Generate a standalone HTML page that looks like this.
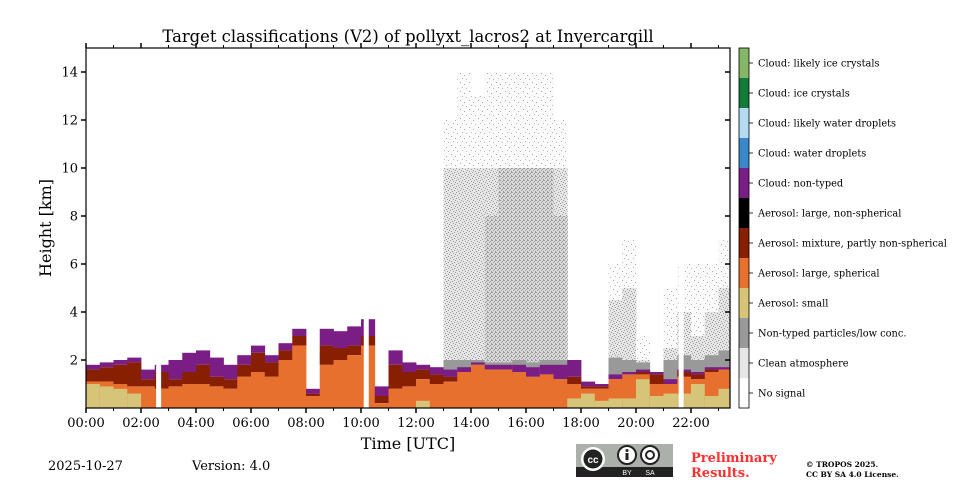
<!DOCTYPE html>
<html><head><meta charset="utf-8">
<style>
html,body{margin:0;padding:0;background:#fff;width:960px;height:480px;overflow:hidden}
svg{display:block}
text{font-family:"DejaVu Serif","Liberation Serif",serif;fill:#000}
</style></head>
<body>
<svg id="chart" width="960" height="480" viewBox="0 0 960 480">
<defs>
<pattern id="sparse" width="9" height="9" patternUnits="userSpaceOnUse">
<rect width="9" height="9" fill="#fafafa"/>
<rect x="1" y="1" width="1" height="1" fill="#aaa"/>
<rect x="5" y="3" width="1" height="1" fill="#aaa"/>
<rect x="7" y="7" width="1" height="1" fill="#bbb"/>
<rect x="3" y="6" width="1" height="1" fill="#bbb"/>
</pattern>
<pattern id="mid" width="6" height="6" patternUnits="userSpaceOnUse">
<rect width="6" height="6" fill="#e6e6e6"/>
<rect x="0" y="0" width="1" height="1" fill="#999"/>
<rect x="3" y="1" width="1" height="1" fill="#999"/>
<rect x="1" y="3" width="1" height="1" fill="#999"/>
<rect x="4" y="4" width="1" height="1" fill="#999"/>
<rect x="5" y="2" width="1" height="1" fill="#999"/>
<rect x="2" y="5" width="1" height="1" fill="#999"/>
</pattern>
<pattern id="dense" width="4" height="4" patternUnits="userSpaceOnUse">
<rect width="4" height="4" fill="#dadada"/>
<rect x="0" y="0" width="1" height="1" fill="#999"/>
<rect x="2" y="1" width="1" height="1" fill="#999"/>
<rect x="1" y="2" width="1" height="1" fill="#999"/>
<rect x="3" y="3" width="1" height="1" fill="#999"/>
<rect x="3" y="0" width="1" height="1" fill="#999"/>
</pattern>
</defs>
<g id="plot"></g>
<g id="axes"></g>
<text x="408" y="42" font-size="16.4" text-anchor="middle">Target classifications (V2) of pollyxt_lacros2 at Invercargill</text>
<text x="408" y="449" font-size="16" text-anchor="middle">Time [UTC]</text>
<text transform="translate(51,228) rotate(-90)" font-size="16" text-anchor="middle">Height [km]</text>
<g id="cbar"></g>
<text x="48" y="470" font-size="13">2025-10-27</text>
<text x="192" y="470" font-size="13">Version: 4.0</text>
<g>
<rect x="576" y="444" width="97" height="33" fill="#abb1aa"/>
<rect x="576" y="467" width="97" height="10" fill="#222"/>
<circle cx="593" cy="459" r="12" fill="#fff"/><circle cx="593" cy="459" r="9.5" fill="#222"/>
<text x="593" y="463" font-size="10" text-anchor="middle" style="fill:#fff;font-weight:bold;font-family:'Liberation Sans',sans-serif">cc</text>
<circle cx="627" cy="455" r="9" fill="#fff" stroke="#222" stroke-width="2"/>
<rect x="625.5" y="453" width="3" height="7" fill="#222"/><circle cx="627" cy="450.5" r="1.5" fill="#222"/>
<circle cx="650" cy="455" r="9" fill="#fff" stroke="#222" stroke-width="2"/>
<circle cx="650" cy="455" r="4" fill="none" stroke="#222" stroke-width="2"/>
<text x="627" y="475" font-size="7" text-anchor="middle" style="fill:#fff;font-family:'Liberation Sans',sans-serif">BY</text>
<text x="650" y="475" font-size="7" text-anchor="middle" style="fill:#fff;font-family:'Liberation Sans',sans-serif">SA</text>
</g>
<text x="691" y="462" font-size="13" font-weight="bold" style="fill:#ff3030">Preliminary</text>
<text x="691" y="477" font-size="13" font-weight="bold" style="fill:#ff3030">Results.</text>
<text x="806" y="467" font-size="7.5" font-weight="bold">© TROPOS 2025.</text>
<text x="806" y="477" font-size="7.5" font-weight="bold">CC BY SA 4.0 License.</text>
</svg>
<script>
// half-hour bins starting at these hours (UTC)
const binStart = [0,0.5,1,1.5,2,2.5,3,3.5,4,4.5,5,5.5,6,6.5,7,7.5,8,8.5,9,9.5,10,10.5,11,11.5,12,12.5,13,13.5,14,14.5,15,15.5,16,16.5,17,17.5,18,18.5,19,19.5,20,20.5,21,21.5,22,22.5,23];
// heights in km
const orangeTop = [1.1,1.1,1.0,0.9,0.9,0.8,0.9,1.0,1.0,0.9,0.8,1.3,1.5,1.3,2.0,2.6,0.5,1.8,2.0,2.2,2.6,0.2,0.8,0.9,1.2,1.0,1.1,1.5,1.8,1.6,1.6,1.5,1.3,1.4,1.2,1.0,0.8,0.8,1.2,1.4,1.4,1.0,1.0,1.3,1.2,1.5,1.6];
const smallTop  = [1.0,0.9,0.8,0.6,0,0,0,0,0,0,0,0,0,0,0,0,0,0,0,0,0,0,0,0,0.3,0,0,0,0,0,0,0,0,0,0,0.4,0.6,0.3,0.4,0.4,1.2,0.5,0.6,0.6,1.0,0.5,0.8];
const darkTop   = [1.6,1.7,1.8,1.9,1.2,1.5,1.2,1.5,1.8,1.3,1.2,1.8,2.3,1.9,2.4,3.0,0.6,2.6,2.5,2.6,3.0,0.5,1.8,1.5,1.6,1.4,1.3,1.5,1.8,1.6,1.6,1.5,1.3,1.4,1.2,1.3,0.9,0.9,1.2,1.4,1.5,1.4,1.0,1.5,1.4,1.6,1.6];
const cloudTop  = [1.8,1.9,2.0,2.1,1.6,1.8,2.0,2.3,2.4,2.1,1.8,2.2,2.6,2.2,2.7,3.3,0.8,3.3,3.2,3.4,3.7,0.9,2.4,1.9,1.8,1.7,1.6,1.7,1.9,1.8,1.8,1.8,1.7,1.8,1.8,2.0,1.1,1.0,1.4,1.5,1.6,1.5,1.2,1.6,1.5,1.7,1.7];
const greyTop   = [0,0,0,0,0,0,0,0,0,0,0,0,0,0,0,0,0,2.3,0,0,0,0,0,0,0,0,2.0,2.0,2.0,1.9,1.9,2.0,1.9,2.0,2.0,0,0,0,2.1,2.0,1.9,0,2.0,2.2,2.0,2.2,2.4];
const denseTop  = [0,0,0,0,0,0,0,0,0,0,0,0,0,0,0,0,0,0,0,0,0,0,0,0,0,0,0,0,0,8,10,10,10,10,8,0,0,0,0,0,0,0,0,0,0,0,0];
const midTop    = [0,0,0,0,0,0,0,0,0,0,0,0,0,0,0,0,0,0,0,0,0,0,0,0,0,0,10,10,10,10,10,10,10,10,10,0,0,0,4.5,5,2,0,2.5,4,3,4,5];
const speckTop  = [0,0,0,0,0,0,0,0,0,0,0,0,0,0,0,0,0,0,0,0,0,0,0,0,0,0,12,14,13,14,14,14,14,14,12,0,0,0,6,7,3,0,5,6,6,6,7];
const gapHours = [2.55,10.1,21.55];
const yTicks = [2,4,6,8,10,12,14];
const xTickLabels = ["00:00","02:00","04:00","06:00","08:00","10:00","12:00","14:00","16:00","18:00","20:00","22:00"];
const classLabels = ["Cloud: likely ice crystals","Cloud: ice crystals","Cloud: likely water droplets","Cloud: water droplets","Cloud: non-typed","Aerosol: large, non-spherical","Aerosol: mixture, partly non-spherical","Aerosol: large, spherical","Aerosol: small","Non-typed particles/low conc.","Clean atmosphere","No signal"];
const classColors = ["#85b866","#137a3a","#b5dbf3","#3a88cc","#7a1e86","#000000","#881f00","#e8702e","#d6c478","#999999","#e6e6e6","#ffffff"];

const X0=86, X1=730, Y0=48, Y1=408, HMAX=15, PXH=27.5;
const xs = h => X0 + h*PXH;
const ys = km => Y1 - km*(Y1-Y0)/HMAX;
const NS='http://www.w3.org/2000/svg';
const plot=document.getElementById('plot'), axes=document.getElementById('axes'), cbar=document.getElementById('cbar');
function mk(tag, attrs, parent){const e=document.createElementNS(NS,tag);for(const k in attrs)e.setAttribute(k,attrs[k]);parent.appendChild(e);return e;}
function band(i, lo, hi, fill, name){
  if(hi<=lo) return;
  const x=xs(binStart[i]), w=Math.min(xs(binStart[i]+0.5),X1)-x;
  const r=mk('rect',{x:x,y:ys(hi),width:w+0.4,height:ys(lo)-ys(hi),fill:fill},plot);
  
  
}
binStart.forEach((h,i)=>{
  if(speckTop[i]>0) band(i, greyTop[i], speckTop[i], 'url(#sparse)', 'sparse-signal-region');
  if(midTop[i]>0) band(i, greyTop[i], midTop[i], 'url(#mid)', 'clean-atmosphere-region');
  if(denseTop[i]>0) band(i, greyTop[i], denseTop[i], 'url(#dense)', 'low-conc-region');
  if(greyTop[i]>0) band(i, orangeTop[i], greyTop[i], '#999999', 'non-typed-particles');
  band(i, darkTop[i], cloudTop[i], '#7a1e86', 'cloud-non-typed');
  band(i, orangeTop[i], darkTop[i], '#881f00', 'aerosol-mixture');
  band(i, 0, orangeTop[i], '#e8702e', 'aerosol-large-spherical');
  band(i, 0, smallTop[i], '#d6c478', 'aerosol-small');
});
gapHours.forEach(g=>{
  const r=mk('rect',{x:xs(g),y:Y0,width:5,height:Y1-Y0,fill:'#fff'},plot);
  
  
});
const fr=mk('rect',{x:X0,y:Y0,width:X1-X0,height:Y1-Y0,fill:'none',stroke:'#000','stroke-width':1.2},axes);


for(let h=0;h<=23;h++){
  const major=h%2===0, x=xs(h), L=major?5:3;
  mk('line',{x1:x,y1:Y1,x2:x,y2:Y1+L,stroke:'#000','stroke-width':major?1.5:1},axes);
  mk('line',{x1:x,y1:Y0,x2:x,y2:Y0-L,stroke:'#000','stroke-width':major?1.5:1},axes);
}
xTickLabels.forEach((lab,i)=>{
  const t=mk('text',{x:xs(i*2),y:Y1+19,'font-size':13,'text-anchor':'middle'},axes);
  t.textContent=lab;
  
  
});
yTicks.forEach(v=>{
  const y=ys(v);
  mk('line',{x1:X0-5,y1:y,x2:X0,y2:y,stroke:'#000','stroke-width':1.5},axes);
  mk('line',{x1:X1-5,y1:y,x2:X1,y2:y,stroke:'#000','stroke-width':1.5},axes);
  const t=mk('text',{x:X0-8,y:y+4.5,'font-size':13,'text-anchor':'end'},axes);
  t.textContent=v;
  
  
});
const segH=(Y1-Y0)/classLabels.length;
classLabels.forEach((lab,i)=>{
  const y=Y0+i*segH;
  const r=mk('rect',{x:739,y:y,width:10,height:segH,fill:classColors[i]},cbar);
  
  
  mk('line',{x1:749,y1:y+segH/2,x2:753,y2:y+segH/2,stroke:'#000','stroke-width':0.8},cbar);
  const t=mk('text',{x:758,y:y+segH/2+3.5,'font-size':9.8},cbar);
  t.textContent=lab;
  
  
});
mk('rect',{x:739,y:Y0,width:10,height:Y1-Y0,fill:'none',stroke:'#000','stroke-width':0.8},cbar);
</script>
</body></html>
